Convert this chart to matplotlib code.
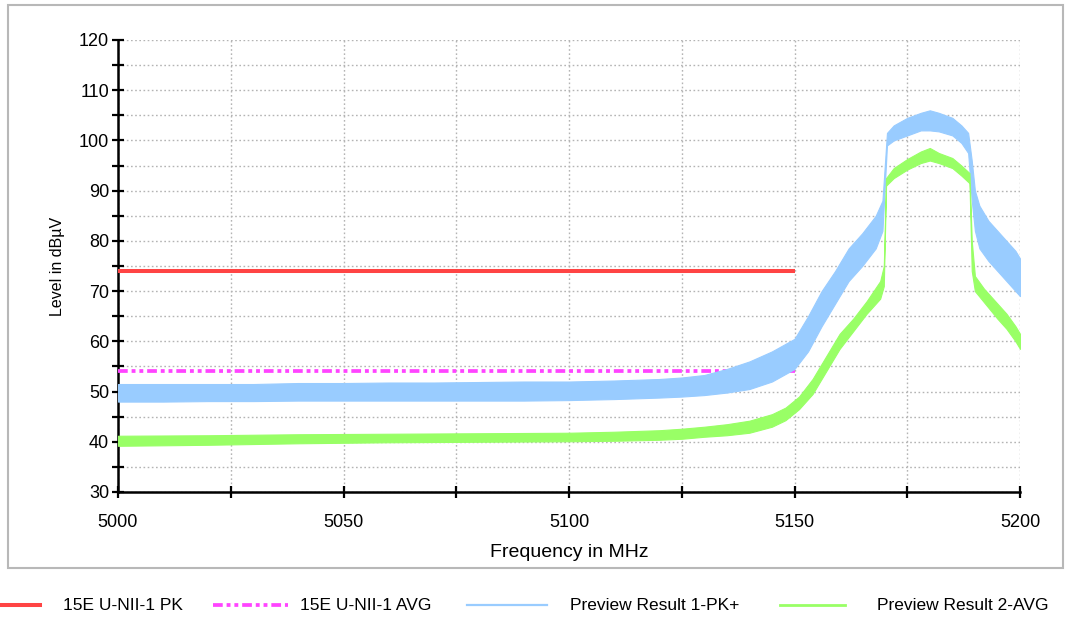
import matplotlib
matplotlib.use("Agg")
import matplotlib.pyplot as plt
from matplotlib.lines import Line2D
from matplotlib.patches import Rectangle
from matplotlib.ticker import MultipleLocator

plt.rcParams['font.family'] = ['Liberation Sans', 'DejaVu Sans']
plt.rcParams['lines.scale_dashes'] = False

# limit lines
limit_freq = [5000, 5150]
limit_pk = [74, 74]
limit_avg = [54, 54]

# Preview Result 1-PK+ (envelope)
pk_freq = [5000, 5010, 5020, 5030, 5040, 5050, 5060, 5070, 5080, 5090, 5100,
           5110, 5120, 5125, 5130, 5135, 5140, 5145, 5150, 5153, 5156, 5159,
           5162, 5165, 5168, 5169.5, 5170.5, 5172, 5175, 5178, 5180, 5182,
           5185, 5187, 5188.5, 5189.3, 5190, 5191, 5193, 5195, 5197, 5199, 5200]
pk_upper = [51.5, 51.5, 51.5, 51.5, 51.7, 51.7, 51.8, 51.8, 51.9, 52.0, 52.0,
            52.2, 52.5, 52.8, 53.3, 54.5, 56.0, 58.0, 60.5, 65.0, 70.0, 74.0,
            78.5, 81.5, 85.0, 88.0, 101.5, 103.0, 104.5, 105.5, 106.0, 105.5,
            104.5, 103.0, 101.5, 96.0, 90.0, 87.0, 84.0, 82.0, 80.0, 78.0, 76.5]
pk_lower = [48.0, 48.0, 48.1, 48.1, 48.2, 48.2, 48.2, 48.2, 48.2, 48.2, 48.3,
            48.5, 48.8, 49.0, 49.3, 49.8, 50.5, 52.0, 54.5, 58.0, 63.0, 67.5,
            72.0, 75.0, 78.5, 82.0, 99.0, 100.0, 101.0, 102.0, 102.0, 101.8,
            101.0, 99.5, 97.5, 88.0, 82.0, 78.5, 76.0, 74.0, 72.0, 70.0, 69.0]

# Preview Result 2-AVG
av_freq = [5000, 5020, 5040, 5060, 5080, 5100, 5110, 5120, 5125, 5130, 5135,
           5140, 5145, 5148, 5151, 5154, 5157, 5160, 5163, 5166, 5169, 5169.8,
           5170.3, 5172, 5175, 5178, 5180, 5182, 5185, 5187, 5188.8, 5189.3,
           5190, 5192, 5195, 5197, 5199, 5200]
av_upper = [41.2, 41.3, 41.5, 41.6, 41.7, 41.8, 42.0, 42.3, 42.6, 43.0, 43.5,
            44.2, 45.5, 46.8, 49.0, 52.5, 57.0, 61.5, 64.5, 68.0, 72.0, 75.0,
            92.5, 94.5, 96.3, 97.8, 98.5, 97.5, 96.5, 95.0, 93.5, 80.0,
            73.0, 70.5, 67.5, 65.5, 63.0, 61.5]
av_lower = [39.2, 39.4, 39.7, 39.9, 40.0, 40.1, 40.2, 40.4, 40.6, 41.0, 41.3,
            41.8, 43.0, 44.3, 46.5, 49.5, 54.0, 58.5, 62.0, 65.5, 68.5, 71.0,
            91.0, 92.5, 94.2, 95.5, 96.0, 95.5, 94.5, 93.0, 91.5, 74.0,
            70.0, 67.8, 64.5, 62.5, 60.0, 58.5]

labels = ["15E U-NII-1 PK", "15E U-NII-1 AVG", "Preview Result 1-PK+", "Preview Result 2-AVG"]

RED = "#ff4444"
MAGENTA = "#ff44ff"
BLUE = "#99ccff"
GREEN = "#99ff66"
AVG_DASH = (7.0, 2.8, 2.8, 2.8, 2.8, 2.8)

fig = plt.figure(figsize=(10.69, 6.19), dpi=100)
W, H = 1069, 619

# outer frame
fig.patches.append(Rectangle((8 / W, 1 - 568 / H), 1055 / W, 563 / H,
                             transform=fig.transFigure, fill=False,
                             edgecolor="#b8b8b8", linewidth=1.5))

ax = fig.add_axes([118 / W, 1 - 492 / H, 902 / W, 452 / H])

ax.plot(limit_freq, limit_pk, color=RED, linewidth=2.9, solid_capstyle="butt", zorder=3)
ax.plot(limit_freq, limit_avg, color=MAGENTA, linewidth=2.7, dashes=AVG_DASH, zorder=3)
ax.fill_between(pk_freq, pk_lower, pk_upper, color=BLUE, linewidth=0.8,
                edgecolor=BLUE, zorder=4)
ax.fill_between(av_freq, av_lower, av_upper, color=GREEN, linewidth=0.8,
                edgecolor=GREEN, zorder=5)

ax.set_xlim(5000, 5200)
ax.set_ylim(30, 120)
ax.xaxis.set_major_locator(MultipleLocator(50))
ax.xaxis.set_minor_locator(MultipleLocator(25))
ax.yaxis.set_major_locator(MultipleLocator(10))
ax.yaxis.set_minor_locator(MultipleLocator(5))

ax.grid(True, which="both", color="#b4b4b4", linestyle=(0, (1.2, 1.8)), linewidth=1.0)
ax.set_axisbelow(True)

for side in ("top", "right"):
    ax.spines[side].set_visible(False)
for side in ("left", "bottom"):
    ax.spines[side].set_linewidth(1.8)
    ax.spines[side].set_color("black")

ax.tick_params(which="both", direction="inout", width=1.6, color="black")
ax.tick_params(which="major", length=9, labelsize=13)
ax.tick_params(which="minor", length=9)
ax.tick_params(axis="x", pad=11)
ax.tick_params(axis="y", pad=2)

ax.set_xlabel("Frequency in MHz", fontsize=14, labelpad=10)
ax.set_ylabel("Level in dBµV", fontsize=11.5, labelpad=10)

# legend under the frame
leg_y = 1 - 605 / H
handles = [
    ((0 / W, 40 / W), dict(color=RED, linewidth=2.9)),
    ((213 / W, 288 / W), dict(color=MAGENTA, linewidth=2.7, dashes=AVG_DASH)),
    ((467 / W, 547 / W), dict(color=BLUE, linewidth=1.6)),
    ((780 / W, 845 / W), dict(color=GREEN, linewidth=2.0)),
]
text_x = [63, 300, 570, 877]
for (xs, kw), tx, lab in zip(handles, text_x, labels):
    fig.add_artist(Line2D(xs, [leg_y, leg_y], transform=fig.transFigure, **kw))
    fig.text(tx / W, leg_y, lab, fontsize=12.5, va="center", ha="left")

fig.savefig("out.png", dpi=100)
